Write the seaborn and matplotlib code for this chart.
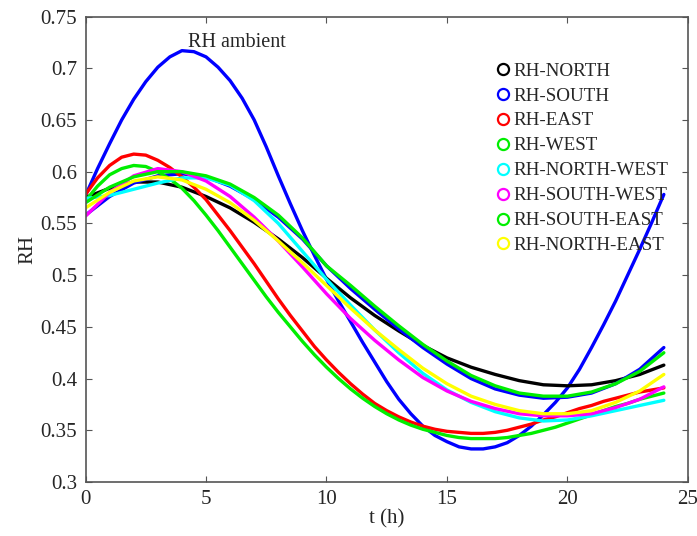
import numpy as np
import matplotlib
matplotlib.use("Agg")
import matplotlib.pyplot as plt
from matplotlib.lines import Line2D
import seaborn as sns

# --- Data ---
hours = list(range(25))
half_hours = [h / 2 for h in range(49)]

# strongly bent curves read every half hour
rh_ambient = [0.577, 0.603, 0.627, 0.650, 0.670, 0.687, 0.701, 0.711, 0.717, 0.716,
              0.711, 0.701, 0.688, 0.671, 0.650, 0.624, 0.596, 0.569, 0.543, 0.519,
              0.496, 0.475, 0.455, 0.435, 0.416, 0.397, 0.380, 0.366, 0.354, 0.345,
              0.339, 0.334, 0.332, 0.332, 0.334, 0.338, 0.345, 0.354, 0.365, 0.377,
              0.391, 0.409, 0.430, 0.452, 0.475, 0.500, 0.525, 0.551, 0.578]
rh_east = [0.578, 0.594, 0.606, 0.614, 0.617, 0.616, 0.611, 0.604, 0.595, 0.585,
           0.573, 0.558, 0.543, 0.527, 0.511, 0.494, 0.477, 0.461, 0.446, 0.431,
           0.418, 0.406, 0.395, 0.385, 0.376, 0.369, 0.363, 0.358, 0.354, 0.351,
           0.349, 0.348, 0.347, 0.347, 0.348, 0.350, 0.353, 0.356, 0.360, 0.363,
           0.367, 0.371, 0.374, 0.378, 0.381, 0.384, 0.387, 0.389, 0.391]
rh_west = [0.572, 0.586, 0.597, 0.603, 0.606, 0.605, 0.600, 0.593, 0.584, 0.572,
           0.558, 0.543, 0.527, 0.511, 0.495, 0.479, 0.464, 0.450, 0.436, 0.423,
           0.411, 0.400, 0.390, 0.381, 0.373, 0.366, 0.360, 0.355, 0.351, 0.348,
           0.345, 0.343, 0.342, 0.342, 0.342, 0.343, 0.345, 0.347, 0.350, 0.353,
           0.357, 0.361, 0.365, 0.369, 0.373, 0.376, 0.380, 0.383, 0.386]

# gentler curves read every hour
rh_north = [0.575, 0.584, 0.590, 0.590, 0.585, 0.576, 0.565, 0.551, 0.535, 0.517,
            0.497, 0.478, 0.461, 0.446, 0.432, 0.420, 0.411, 0.404, 0.398, 0.394,
            0.393, 0.394, 0.398, 0.404, 0.413]
rh_south = [0.558, 0.576, 0.589, 0.596, 0.598, 0.595, 0.586, 0.573, 0.556, 0.535,
            0.509, 0.487, 0.467, 0.448, 0.430, 0.414, 0.400, 0.390, 0.384, 0.381,
            0.382, 0.386, 0.395, 0.409, 0.430]
rh_north_west = [0.574, 0.577, 0.583, 0.589, 0.594, 0.594, 0.587, 0.572, 0.550, 0.523,
                 0.496, 0.471, 0.447, 0.425, 0.405, 0.389, 0.377, 0.368, 0.362, 0.359,
                 0.360, 0.364, 0.369, 0.374, 0.379]
rh_south_west = [0.557, 0.580, 0.596, 0.603, 0.600, 0.591, 0.576, 0.556, 0.533, 0.508,
                 0.482, 0.458, 0.437, 0.418, 0.401, 0.388, 0.378, 0.371, 0.366, 0.364,
                 0.364, 0.366, 0.372, 0.380, 0.392]
rh_south_east = [0.570, 0.585, 0.595, 0.600, 0.600, 0.596, 0.588, 0.575, 0.558, 0.536,
                 0.509, 0.490, 0.470, 0.451, 0.433, 0.417, 0.403, 0.393, 0.386, 0.383,
                 0.383, 0.387, 0.395, 0.407, 0.425]
rh_north_east = [0.565, 0.580, 0.591, 0.595, 0.592, 0.583, 0.570, 0.553, 0.533, 0.512,
                 0.490, 0.468, 0.447, 0.428, 0.410, 0.395, 0.383, 0.375, 0.369, 0.366,
                 0.366, 0.369, 0.377, 0.388, 0.404]

labels = ["RH-NORTH", "RH-SOUTH", "RH-EAST", "RH-WEST", "RH-NORTH-WEST",
          "RH-SOUTH-WEST", "RH-SOUTH-EAST", "RH-NORTH-EAST"]
values = [rh_north, rh_south, rh_east, rh_west, rh_north_west,
          rh_south_west, rh_south_east, rh_north_east]
colors = ["#000000", "#0000ff", "#ff0000", "#00ee00", "#00ffff",
          "#ff00ff", "#00ee00", "#ffff00"]

# --- Plot ---
sns.set_style("ticks")
plt.rcParams["font.family"] = ["Liberation Serif", "DejaVu Serif"]

fig = plt.figure(figsize=(6.97, 5.36), dpi=100)
ax = fig.add_axes([0.1227, 0.1007, 0.8643, 0.8685])

sns.lineplot(x=half_hours, y=rh_ambient, color="#0000ff", lw=2.4, ax=ax)
for lab, vals, c in zip(labels, values, colors):
    t = half_hours if len(vals) == len(half_hours) else hours
    sns.lineplot(x=t, y=vals, color=c, lw=2.4, ax=ax)

ax.text(6.3, 0.725, "RH ambient", fontsize=14.5, ha="center", va="center")

ax.set_xlim(0, 25)
ax.set_ylim(0.3, 0.75)
ax.set_xticks([0, 5, 10, 15, 20, 25])
ax.set_yticks(np.arange(0.3, 0.751, 0.05))
ax.set_yticklabels(["0.3", "0.35", "0.4", "0.45", "0.5", "0.55", "0.6",
                    "0.65", "0.7", "0.75"])
ax.tick_params(direction="in", length=4, width=0.8, color="#555555",
               labelsize=15, top=True, right=True, pad=6)
for sp in ax.spines.values():
    sp.set_color("#555555")
    sp.set_linewidth(1.2)
    sp.set_visible(True)

ax.set_xlabel("t (h)", fontsize=15, labelpad=0)
ax.set_ylabel("RH", fontsize=15, labelpad=2)

handles = [Line2D([], [], ls="none", marker="o", markersize=8,
                  markerfacecolor="none", markeredgecolor=c,
                  markeredgewidth=1.6, label=lab)
           for lab, c in zip(labels, colors)]
ax.legend(handles=handles, loc="upper left", bbox_to_anchor=(0.665, 0.918),
          frameon=False, fontsize=13.7, handletextpad=0.05, handlelength=1.0,
          labelspacing=0.40, borderaxespad=0)

fig.savefig("out.png", dpi=100)
